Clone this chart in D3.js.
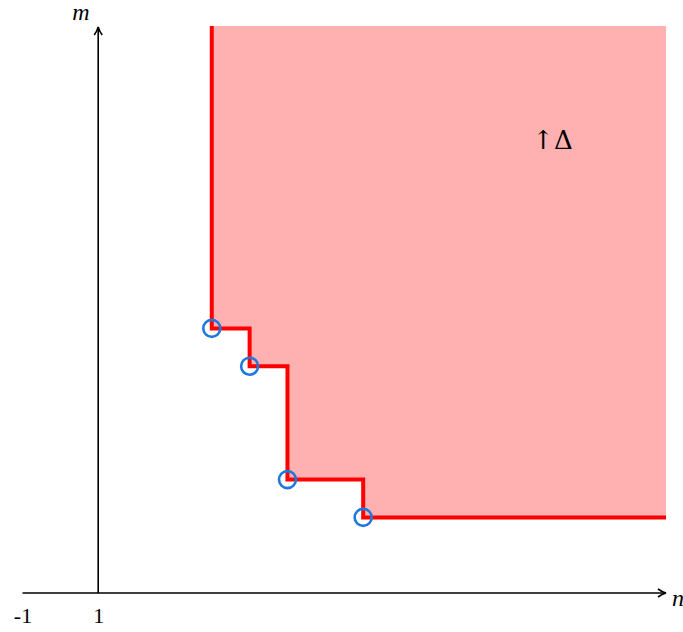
<!DOCTYPE html>
<html>
<head>
<meta charset="utf-8">
<script src="https://cdn.jsdelivr.net/npm/d3@7"></script>
<style>
  body { margin: 0; background: #fff; }
  text { font-family: "Liberation Serif", "DejaVu Serif", serif; }
</style>
</head>
<body>
<svg width="683" height="632"></svg>
<script>
// staircase corner points (n, m)
const nValues = [4, 5, 6, 8];
const mValues = [7, 6, 3, 2];
const xTicks = [-1, 1];
const nRange = [-1, 16];
const mRange = [0, 15];

const svg = d3.select("svg");

// scales
const x = d3.scaleLinear().domain(nRange).range([22.5, 666]);
const y = d3.scaleLinear().domain(mRange).range([593, 26]);

// arrow marker
svg.append("defs").append("marker")
    .attr("id", "arrow")
    .attr("viewBox", "0 0 10 10")
    .attr("refX", 9).attr("refY", 5)
    .attr("markerWidth", 10).attr("markerHeight", 10)
    .attr("markerUnits", "userSpaceOnUse")
    .attr("orient", "auto")
    .append("path")
    .attr("d", "M1,1 Q5,4 9,5 Q5,6 1,9")
    .attr("fill", "none")
    .attr("stroke", "#000")
    .attr("stroke-width", 1.6);

// build staircase
const stairs = [[nValues[0], mRange[1]]];
nValues.forEach((n, i) => {
    stairs.push([n, mValues[i]]);
    const nextN = i < nValues.length - 1 ? nValues[i + 1] : nRange[1];
    stairs.push([nextN, mValues[i]]);
});
const region = stairs.concat([[nRange[1], mRange[1]]]);

const line = d3.line().x(d => x(d[0])).y(d => y(d[1]));

// shaded region
svg.append("path")
    .datum(region)
    .attr("d", line.curve(d3.curveLinearClosed))
    .attr("fill", "#ffb1b1")
    .attr("stroke", "none");

// axes
svg.append("line")
    .attr("x1", x(nRange[0])).attr("x2", x(nRange[1]))
    .attr("y1", y(0)).attr("y2", y(0))
    .attr("stroke", "#000").attr("stroke-width", 1.6)
    .attr("marker-end", "url(#arrow)");

svg.append("line")
    .attr("x1", x(1)).attr("x2", x(1))
    .attr("y1", y(0)).attr("y2", y(mRange[1]) + 1)
    .attr("stroke", "#000").attr("stroke-width", 1.6)
    .attr("marker-end", "url(#arrow)");

// tick labels via axis
const xAxis = d3.axisBottom(x)
    .tickValues(xTicks)
    .tickSize(0)
    .tickPadding(14)
    .tickFormat(d => String(d));

const gx = svg.append("g")
    .attr("transform", `translate(0,${y(0)})`)
    .call(xAxis);
gx.select(".domain").remove();
gx.selectAll("text")
    .style("font-family", "'Liberation Serif', 'DejaVu Serif', serif")
    .attr("font-size", 22)
    .attr("fill", "#000");

// axis names
svg.append("text")
    .attr("x", 672).attr("y", 606)
    .attr("font-size", 24)
    .attr("font-style", "italic")
    .text("n");

svg.append("text")
    .attr("x", 81).attr("y", 20)
    .attr("text-anchor", "middle")
    .attr("font-size", 24)
    .attr("font-style", "italic")
    .text("m");

// staircase boundary
svg.append("path")
    .datum(stairs)
    .attr("d", d3.line().x(d => x(d[0])).y(d => y(d[1])))
    .attr("fill", "none")
    .attr("stroke", "#ff0000")
    .attr("stroke-width", 4);

// corner markers
svg.selectAll("circle.pt")
    .data(nValues.map((n, i) => [n, mValues[i]]))
    .join("circle")
    .attr("class", "pt")
    .attr("cx", d => x(d[0]))
    .attr("cy", d => y(d[1]))
    .attr("r", 8.5)
    .attr("fill", "none")
    .attr("stroke", "#1f78e0")
    .attr("stroke-width", 2.6);

// region label
svg.append("text")
    .attr("x", x(13)).attr("y", y(12) + 10)
    .attr("text-anchor", "middle")
    .style("font-family", "'DejaVu Serif', serif")
    .attr("font-size", 26)
    .text("↑Δ");
</script>
</body>
</html>
